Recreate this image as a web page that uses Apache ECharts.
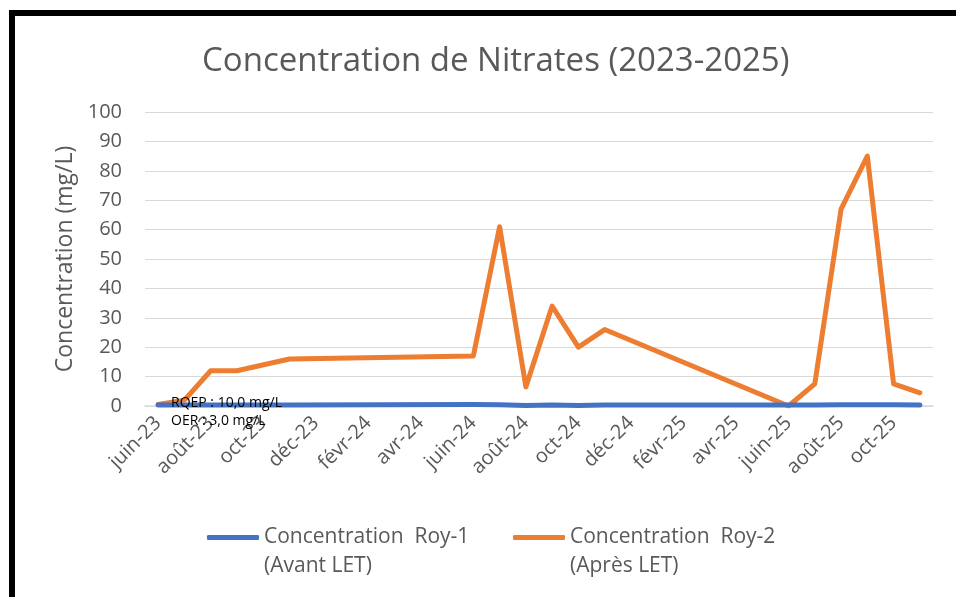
<!DOCTYPE html>
<html>
<head>
<meta charset="utf-8">
<script src="https://cdn.jsdelivr.net/npm/echarts@6/dist/echarts.min.js"></script>
<style>
  html, body { margin: 0; padding: 0; background: #fff; }
  #chart { width: 956px; height: 597px; }
</style>
</head>
<body>
<div id="chart"></div>
<script>
// mois (juin-23 -> nov-25), un point par mois, trous = pas de mesure
const months = [
  'juin-23', 'juil-23', 'août-23', 'sept-23', 'oct-23', 'nov-23', 'déc-23',
  'janv-24', 'févr-24', 'mars-24', 'avr-24', 'mai-24', 'juin-24', 'juil-24',
  'août-24', 'sept-24', 'oct-24', 'nov-24', 'déc-24', 'janv-25', 'févr-25',
  'mars-25', 'avr-25', 'mai-25', 'juin-25', 'juil-25', 'août-25', 'sept-25',
  'oct-25', 'nov-25'
]
const roy1 = [
  0.3, 0.3, 0.3, 0.3, null, 0.3, null, null, null, null, null, null, 0.5, 0.4,
  0.2, 0.3, 0.2, 0.3, null, null, null, null, null, null, 0.3, 0.3, 0.4, 0.4,
  0.4, 0.3
]
const roy2 = [
  0.5, 2, 12, 12, null, 16, null, null, null, null, null, null, 17, 61,
  6.5, 34, 20, 26, null, null, null, null, null, null, 0, 7.5, 67, 85,
  7.5, 4.5
]
const yTicks = { min: 0, max: 100, interval: 10 }
const seriesNames = ['Concentration  Roy-1\n(Avant LET)', 'Concentration  Roy-2\n(Après LET)']
const notes = ['RQEP : 10,0 mg/L', 'OER : 3,0 mg/L']

const grey = '#595959'
const font = 'Open Sans'

const myChart = echarts.init(document.getElementById('chart'))

const option = {
  backgroundColor: '#fff',
  animation: false,
  title: {
    text: 'Concentration de Nitrates (2023-2025)',
    left: 197,
    top: 40,
    textStyle: { fontFamily: font, fontSize: 33, fontWeight: 'normal', color: grey }
  },
  legend: [
    {
      data: [seriesNames[0]],
      left: 207, top: 494, padding: 0,
      itemWidth: 52, itemHeight: 5,
      icon: 'roundRect',
      formatter: n => '\n' + n,
      textStyle: { fontFamily: font, fontSize: 21, color: grey, lineHeight: 29 }
    },
    {
      data: [seriesNames[1]],
      left: 513, top: 494, padding: 0,
      itemWidth: 52, itemHeight: 5,
      icon: 'roundRect',
      formatter: n => '\n' + n,
      textStyle: { fontFamily: font, fontSize: 21, color: grey, lineHeight: 29 }
    }
  ],
  grid: { left: 145, right: 23, top: 112, bottom: 191 },
  xAxis: {
    type: 'category',
    data: months,
    boundaryGap: true,
    axisLine: { lineStyle: { color: '#D9D9D9', width: 1.5 } },
    axisTick: { show: false },
    axisLabel: {
      interval: 1,
      rotate: 45,
      margin: 14,
      fontFamily: font, fontSize: 20, color: grey
    },
    splitLine: { show: false }
  },
  yAxis: {
    type: 'value',
    min: yTicks.min, max: yTicks.max, interval: yTicks.interval,
    name: 'Concentration (mg/L)',
    nameLocation: 'middle',
    nameGap: 68,
    nameTextStyle: { fontFamily: font, fontSize: 23, color: grey },
    axisLine: { show: false },
    axisTick: { show: false },
    axisLabel: { margin: 23, fontFamily: font, fontSize: 20, color: grey },
    splitLine: { lineStyle: { color: '#D9D9D9', width: 1 } }
  },
  series: [
    {
      name: seriesNames[0],
      type: 'line',
      data: roy1,
      connectNulls: true,
      showSymbol: false,
      symbol: 'none',
      z: 3,
      lineStyle: { color: '#4472C4', width: 5, cap: 'round', join: 'round' },
      itemStyle: { color: '#4472C4' }
    },
    {
      name: seriesNames[1],
      type: 'line',
      data: roy2,
      connectNulls: true,
      showSymbol: false,
      symbol: 'none',
      z: 2,
      lineStyle: { color: '#ED7D31', width: 5, cap: 'round', join: 'round' },
      itemStyle: { color: '#ED7D31' }
    }
  ],
  graphic: [
    // cadre noir (haut + gauche)
    { type: 'rect', left: 9, top: 10, shape: { width: 947, height: 6 }, style: { fill: '#000' } },
    { type: 'rect', left: 9, top: 10, shape: { width: 6, height: 587 }, style: { fill: '#000' } },
    {
      type: 'text', left: 171, top: 394, z: 10,
      style: { text: notes.join('\n'), fontFamily: font, fontSize: 14, lineHeight: 18, fill: '#000' }
    }
  ]
}

myChart.setOption(option)
</script>
</body>
</html>
